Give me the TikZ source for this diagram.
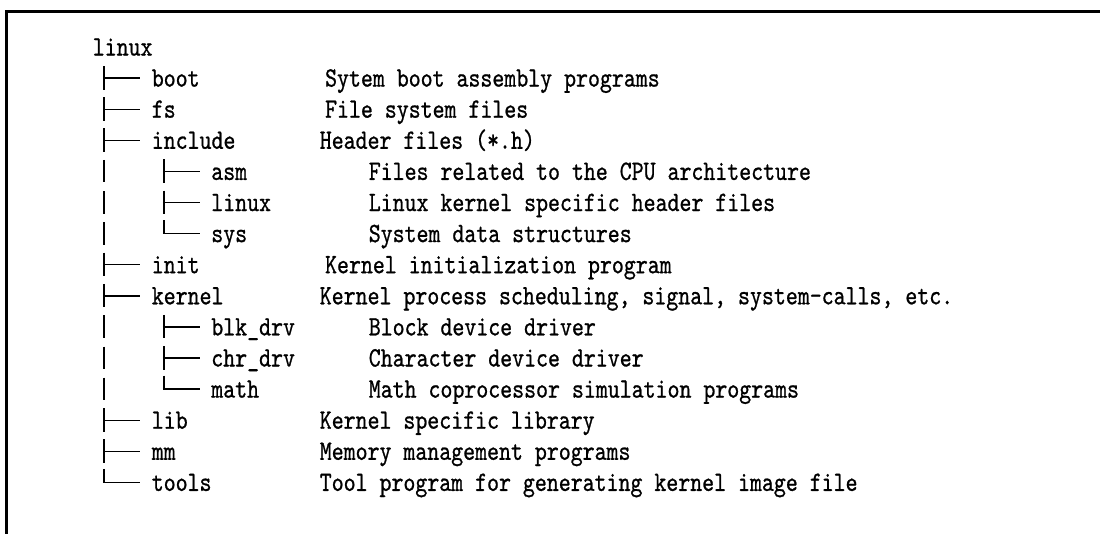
\documentclass[tikz,border=0pt]{standalone}
\usepackage{fontspec}
\setmonofont[FakeStretch=0.813, FakeBold=0.8]{lmmono10-regular.otf}
\usetikzlibrary{calc}
\newcommand\treefont{\fontsize{28pt}{31pt}\selectfont\ttfamily}
\tikzset{
  txt/.style={anchor=base west, inner sep=0pt, outer sep=0pt, font=\treefont},
  vbar/.style={line width=2pt},
  hbar/.style={line width=1.4pt},
  frameline/.style={line width=2.5pt},
}
% tee branch in front of a name node
\newcommand\branchmark[1]{%
  \draw[vbar] ($(#1.base west)+(-47.5,-20.5)$) -- ($(#1.base west)+(-47.5,3)$);
  \draw[hbar] ($(#1.base west)+(-48.5,-8.5)$) -- ($(#1.base west)+(-11.8,-8.5)$);
}
% last (corner) branch in front of a name node
\newcommand\lastmark[1]{%
  \draw[vbar] ($(#1.base west)+(-47.5,-22)$) -- ($(#1.base west)+(-47.5,-7.8)$);
  \draw[hbar] ($(#1.base west)+(-48.5,-8.5)$) -- ($(#1.base west)+(-11.8,-8.5)$);
}
% continuing vertical bar of the outer level in a sub-level row
\newcommand\pipemark[1]{%
  \draw[vbar] ($(#1.base west)+(-107,-20)$) -- ($(#1.base west)+(-107,2.5)$);
}
\begin{document}
\begin{tikzpicture}[x=1pt,y=-1pt]
\useasboundingbox (0,0) rectangle (1100,533);
% frame
\draw[frameline] (6.3,534) -- (6.3,11.3) -- (1101,11.3);

% root
\node[txt] (root) at (92.8,55.5) {linux};
% level 1 names
\node[txt] (boot)    at (151.8,86.6)  {boot};
\node[txt] (fs)      at (151.8,117.7) {fs};
\node[txt] (include) at (151.8,148.8) {include};
\node[txt] (init)    at (151.8,273.2) {init};
\node[txt] (kernel)  at (151.8,304.3) {kernel};
\node[txt] (lib)     at (151.8,428.7) {lib};
\node[txt] (mm)      at (151.8,459.8) {mm};
\node[txt] (tools)   at (151.8,490.9) {tools};
% level 2 names
\node[txt] (asm)    at (211.3,179.9) {asm};
\node[txt] (ilinux) at (211.3,211.0) {linux};
\node[txt] (sys)    at (211.3,242.1) {sys};
\node[txt] (blk)    at (211.3,335.4) {blk\_drv};
\node[txt] (chr)    at (211.3,366.5) {chr\_drv};
\node[txt] (math)   at (211.3,397.6) {math};

% descriptions
\node[txt] (d-boot)    at (325.1,86.6)  {Sytem boot assembly programs};
\node[txt] (d-fs)      at (325.1,117.7) {File system files};
\node[txt] (d-include) at (319.8,148.8) {Header files (*.h)};
\node[txt] (d-asm)     at (368.8,179.9) {Files related to the CPU architecture};
\node[txt] (d-ilinux)  at (368.8,211.0) {Linux kernel specific header files};
\node[txt] (d-sys)     at (368.8,242.1) {System data structures};
\node[txt] (d-init)    at (325.1,273.2) {Kernel initialization program};
\node[txt] (d-kernel)  at (319.8,304.3) {Kernel process scheduling, signal, system-calls, etc.};
\node[txt] (d-blk)     at (368.8,335.4) {Block device driver};
\node[txt] (d-chr)     at (368.8,366.5) {Character device driver};
\node[txt] (d-math)    at (368.8,397.6) {Math coprocessor simulation programs};
\node[txt] (d-lib)     at (319.8,428.7) {Kernel specific library};
\node[txt] (d-mm)      at (319.8,459.8) {Memory management programs};
\node[txt] (d-tools)   at (319.8,490.9) {Tool program for generating kernel image file};

% tree glyphs
\branchmark{boot}
\branchmark{fs}
\branchmark{include}
\branchmark{init}
\branchmark{kernel}
\branchmark{lib}
\branchmark{mm}
\lastmark{tools}
\branchmark{asm}
\branchmark{ilinux}
\lastmark{sys}
\branchmark{blk}
\branchmark{chr}
\lastmark{math}
\pipemark{asm}
\pipemark{ilinux}
\pipemark{sys}
\pipemark{blk}
\pipemark{chr}
\pipemark{math}
\end{tikzpicture}
\end{document}
